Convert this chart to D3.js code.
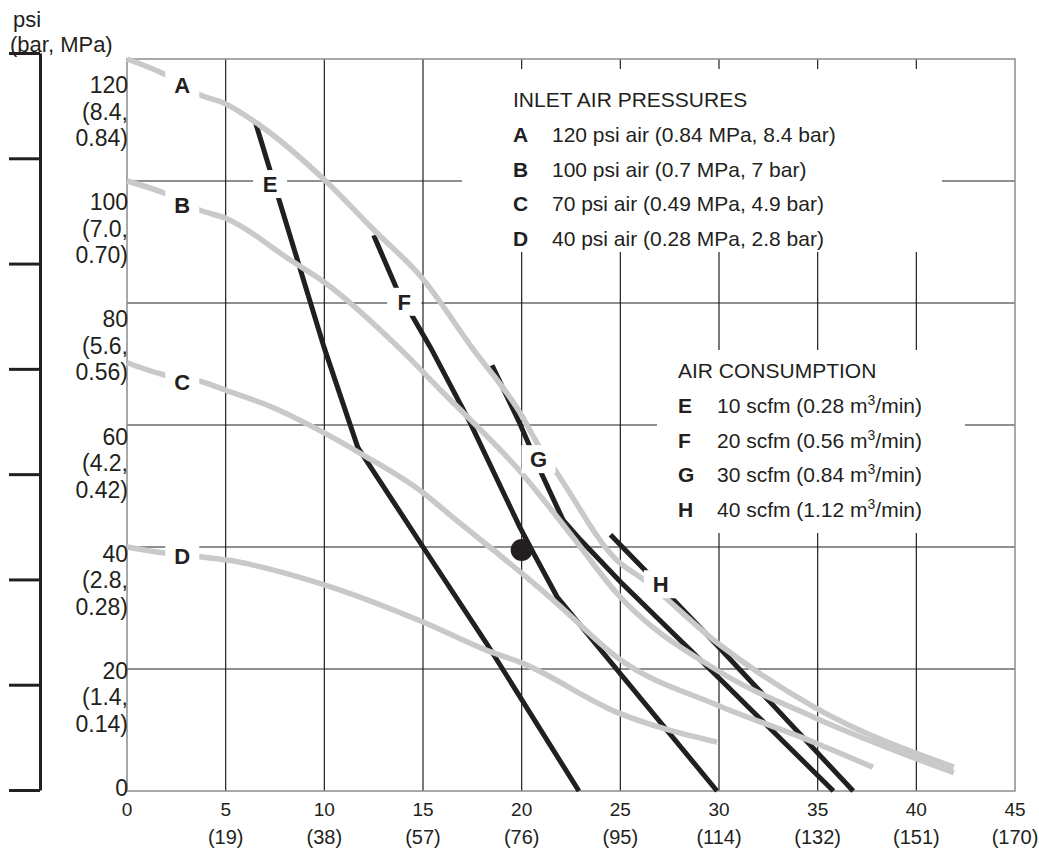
<!DOCTYPE html>
<html>
<head>
<meta charset="utf-8">
<script src="https://cdn.jsdelivr.net/npm/d3@7"></script>
<style>
  body { margin: 0; background: #fff; }
  text { font-family: "Liberation Sans", Arial, sans-serif; fill: #231f20; }
</style>
</head>
<body>
<script>
// chart size
let width = 1039, height = 850;

let margin = {
  top: 59,
  bottom: 59,
  left: 127,
  right: 24
};

// axis ticks
const xTicks = [0, 5, 10, 15, 20, 25, 30, 35, 40, 45];
const xTicksLpm = ["", "(19)", "(38)", "(57)", "(76)", "(95)", "(114)", "(132)", "(151)", "(170)"];
const yTicks = [0, 20, 40, 60, 80, 100, 120];
const yTicksBar = ["", "(1.4,", "(2.8,", "(4.2,", "(5.6,", "(7.0,", "(8.4,"];
const yTicksMpa = ["", "0.14)", "0.28)", "0.42)", "0.56)", "0.70)", "0.84)"];
const sideTicks = [0, 1, 2, 3, 4, 5, 6, 7];

// inlet air pressure curves (x = flow, y = psi)
const curveA = [[0,120],[1.9,117.5],[3.7,114.1],[4.9,112.8],[6.7,109.2],[10,100.2],[12.5,92],[14.9,84.3],[17.5,72.6],[19.9,62.1],[20.9,56.4],[21.8,52.1],[24.8,37.9],[26.2,34.6],[29.9,24.3],[34.8,13.8],[41.9,3.9]];
const curveB = [[0,100],[1.9,98],[3.7,95.2],[5,93.9],[8.3,87],[10,83.4],[13.8,72.6],[15.9,65.7],[20,52.1],[22.6,41.6],[24.8,32.5],[29.9,19.8],[34.8,12.1],[41.9,3.0]];
const curveC = [[0,70.2],[1.9,68.2],[3.7,67.2],[5,65.7],[7.3,63],[10,58.7],[11.8,55.4],[15,48.9],[16.5,44.9],[20,35.7],[21.6,31.3],[25,21.5],[29.9,14.1],[34.8,8],[37.8,3.9]];
const curveD = [[0,40],[1.9,39],[3.7,38.4],[5,37.9],[10,33.8],[15,27.7],[18.2,23.1],[20,21],[24.9,12.8],[29.9,8]];

// air consumption curves
const curveE = [[6.5,109.7],[10,72.6],[11.7,56.3],[15,40],[18.2,24.3],[22.9,0]];
const curveF = [[12.5,91.1],[13.7,82.1],[15.4,72.6],[17.4,60.3],[19.9,43.3],[20.6,39],[21.8,31.8],[29.9,0]];
const curveG = [[18.5,69.8],[19.9,60.3],[21,52.1],[22.1,44.4],[23,41.1],[25,34.3],[30.1,18.2],[35.8,0]];
const curveH = [[24.5,42],[26.4,35.7],[29.9,23.9],[36.8,0]];

const pressureCurves = [curveA, curveB, curveC, curveD];
const consumptionCurves = [curveE, curveF, curveG, curveH];

// curve labels and where they sit
const curveNames = ["A", "B", "C", "D", "E", "F", "G", "H"];
const labelX = [2.8, 2.8, 2.8, 2.8, 7.25, 14.05, 20.85, 27.05];
const labelY = [115.7, 96.1, 67.0, 38.5, 99.5, 80.2, 54.4, 33.9];

// operating point
const point = [20, 39.5];

// legends
const pressureLegend = ["120 psi air (0.84 MPa, 8.4 bar)", "100 psi air (0.7 MPa, 7 bar)", "70 psi air (0.49 MPa, 4.9 bar)", "40 psi air (0.28 MPa, 2.8 bar)"];
const consumptionLegend = ["10 scfm (0.28 m", "20 scfm (0.56 m", "30 scfm (0.84 m", "40 scfm (1.12 m"];

const black = "#231f20", grey = "#c8c9cb";

let svg = d3.select('body')
  .append('svg')
  .attr('width', width)
  .attr('height', height);

// scales
const xScale = d3.scaleLinear()
  .domain([0, 45])
  .range([margin.left, width - margin.right]);

const yScale = d3.scaleLinear()
  .domain([0, 120])
  .range([height - margin.bottom, margin.top]);

// tick text sits on its own slightly tighter spacing
const yLabelScale = d3.scaleLinear()
  .domain([0, 120])
  .range([796, 93]);

const sideScale = d3.scaleLinear()
  .domain([0, 7])
  .range([790, 53]);

// grid lines
svg.selectAll(".vgrid")
  .data(xTicks.filter(d => d > 0 && d < 45))
  .enter()
  .append("line")
  .attr("x1", d => xScale(d)).attr("x2", d => xScale(d))
  .attr("y1", yScale(120)).attr("y2", yScale(0))
  .attr("stroke", black).attr("stroke-width", 1.2);

svg.selectAll(".hgrid")
  .data(yTicks.filter(d => d > 0 && d < 120))
  .enter()
  .append("line")
  .attr("x1", xScale(0)).attr("x2", xScale(45))
  .attr("y1", d => yScale(d)).attr("y2", d => yScale(d))
  .attr("stroke", black).attr("stroke-width", 1.2);

// frame
svg.append("rect")
  .attr("x", xScale(0)).attr("y", yScale(120))
  .attr("width", xScale(45) - xScale(0))
  .attr("height", yScale(0) - yScale(120))
  .attr("fill", "none")
  .attr("stroke", "#8c8c8c").attr("stroke-width", 1.5);

// white areas behind the legends
svg.append("rect").attr("x", 462).attr("y", 69).attr("width", 480).attr("height", 183).attr("fill", "#fff");
svg.append("rect").attr("x", 657).attr("y", 350).attr("width", 308).attr("height", 183).attr("fill", "#fff");

// curves
const line = d3.line()
  .x(d => xScale(d[0]))
  .y(d => yScale(d[1]));

svg.selectAll(".consumption")
  .data(consumptionCurves)
  .enter()
  .append("path")
  .attr("d", line)
  .attr("fill", "none")
  .attr("stroke", black)
  .attr("stroke-width", 5);

const smooth = d3.line()
  .x(d => xScale(d[0]))
  .y(d => yScale(d[1]))
  .curve(d3.curveMonotoneX);

svg.selectAll(".pressure")
  .data(pressureCurves)
  .enter()
  .append("path")
  .attr("d", smooth)
  .attr("fill", "none")
  .attr("stroke", grey)
  .attr("stroke-width", 5.5);

// operating point
svg.append("circle")
  .attr("cx", xScale(point[0]))
  .attr("cy", yScale(point[1]))
  .attr("r", 11)
  .attr("fill", black);

// curve letters on white boxes
const labels = svg.selectAll(".curveLabel")
  .data(curveNames)
  .enter()
  .append("g")
  .attr("transform", (d, i) => `translate(${xScale(labelX[i])},${yScale(labelY[i])})`);

labels.append("rect")
  .attr("x", -17).attr("y", -14)
  .attr("width", 34).attr("height", 28)
  .attr("fill", "#fff");

labels.append("text")
  .attr("text-anchor", "middle")
  .attr("dy", "0.36em")
  .style("font-size", "22px")
  .style("font-weight", "bold")
  .text(d => d);

// y axis labels
const yLab = svg.selectAll(".ylab")
  .data(yTicks)
  .enter()
  .append("text")
  .attr("text-anchor", "end")
  .style("font-size", "23px");

yLab.append("tspan").attr("x", 128).attr("y", d => yLabelScale(d)).text(d => d);
yLab.append("tspan").attr("x", 128).attr("y", d => yLabelScale(d) + 26.5).text((d, i) => yTicksBar[i]);
yLab.append("tspan").attr("x", 128).attr("y", d => yLabelScale(d) + 53).text((d, i) => yTicksMpa[i]);

// x axis labels
svg.selectAll(".xlab")
  .data(xTicks)
  .enter()
  .append("text")
  .attr("x", d => xScale(d))
  .attr("y", 816)
  .attr("text-anchor", "middle")
  .style("font-size", "19px")
  .text(d => d);

svg.selectAll(".xlab2")
  .data(xTicks)
  .enter()
  .append("text")
  .attr("x", d => xScale(d))
  .attr("y", 844)
  .attr("text-anchor", "middle")
  .style("font-size", "20px")
  .text((d, i) => xTicksLpm[i]);

// unit title
svg.append("text").attr("x", 13).attr("y", 27).style("font-size", "22px").text("psi");
svg.append("text").attr("x", 10).attr("y", 52).style("font-size", "22px").text("(bar, MPa)");

// side bracket axis
svg.append("g")
  .attr("transform", "translate(40,0)")
  .call(d3.axisLeft(sideScale).tickValues(sideTicks).tickSize(31).tickSizeOuter(0).tickFormat(""))
  .call(g => g.selectAll("line, path").attr("stroke", black).attr("stroke-width", 3));

// legend: inlet air pressures
svg.append("text").attr("x", 513).attr("y", 107).style("font-size", "21px").text("INLET AIR PRESSURES");
pressureLegend.forEach(function(t, i) {
  svg.append("text").attr("x", 513).attr("y", 142 + i * 34.5)
    .style("font-size", "21px").style("font-weight", "bold").text(curveNames[i]);
  svg.append("text").attr("x", 552).attr("y", 142 + i * 34.5)
    .style("font-size", "21px").text(t);
});

// legend: air consumption
svg.append("text").attr("x", 678).attr("y", 378).style("font-size", "21px").text("AIR CONSUMPTION");
consumptionLegend.forEach(function(t, i) {
  svg.append("text").attr("x", 678).attr("y", 413 + i * 34.7)
    .style("font-size", "21px").style("font-weight", "bold").text(curveNames[i + 4]);
  const row = svg.append("text").attr("x", 717).attr("y", 413 + i * 34.7)
    .style("font-size", "21px");
  row.append("tspan").text(t);
  row.append("tspan").attr("dy", -8).style("font-size", "14px").text("3");
  row.append("tspan").attr("dy", 8).text("/min)");
});
</script>
</body>
</html>
